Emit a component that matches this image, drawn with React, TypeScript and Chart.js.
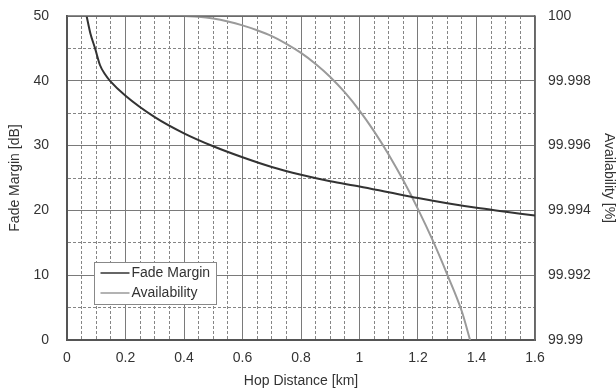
import React, { useEffect, useRef } from "react";
import { Chart, registerables } from "chart.js";

Chart.register(...registerables);

// Fade Margin curve [dB] vs hop distance [km]
const fadeDistance = [0.067, 0.08, 0.096, 0.113, 0.13, 0.147, 0.2, 0.3, 0.4, 0.5, 0.6, 0.7, 0.8, 0.9, 1.0, 1.1, 1.2, 1.3, 1.4, 1.5, 1.6];
const fadeMargin = [50, 47.3, 45, 42.4, 41, 40, 37.7, 34.4, 31.9, 29.9, 28.2, 26.7, 25.5, 24.5, 23.7, 22.8, 21.9, 21.1, 20.4, 19.8, 19.2];

// Availability curve [%] vs hop distance [km]
const availDistance = [0.4, 0.45, 0.5, 0.55, 0.6, 0.65, 0.7, 0.75, 0.8, 0.85, 0.9, 0.95, 1.0, 1.05, 1.1, 1.15, 1.2, 1.25, 1.3, 1.35, 1.378];
const availability = [100, 99.999976, 99.99992, 99.99983, 99.99971, 99.99956, 99.99938, 99.99914, 99.99886, 99.99852, 99.99812, 99.99764, 99.99708, 99.99644, 99.99572, 99.99492, 99.99404, 99.99308, 99.99202, 99.99088, 99.99];

// Axis ticks / labels
const xMajorTicks = [0, 0.2, 0.4, 0.6, 0.8, 1, 1.2, 1.4, 1.6];
const xTickLabels = ["0", "0.2", "0.4", "0.6", "0.8", "1", "1.2", "1.4", "1.6"];
const xMinorStep = 0.05;
const leftMajorTicks = [0, 10, 20, 30, 40, 50];
const leftTickLabels = ["0", "10", "20", "30", "40", "50"];
const leftMinorStep = 5;
const rightTicks = [99.99, 99.992, 99.994, 99.996, 99.998, 100];
const rightTickLabels = ["99.99", "99.992", "99.994", "99.996", "99.998", "100"];

const seriesNames = ["Fade Margin", "Availability"];
const seriesColors = ["#333333", "#9a9a9a"];

const FONT = "'Liberation Sans', Arial, sans-serif";
const TEXT = "#333333";
const MAJOR = "#7a7a7a";
const MINOR = "#858585";

function buildGrid(max: number, step: number): number[] {
  const out: number[] = [];
  const n = Math.round(max / step);
  for (let i = 0; i <= n; i++) out.push(Math.round(i * step * 1000) / 1000);
  return out;
}

function isMajor(list: number[], v: number) {
  return list.some((m) => Math.abs(m - v) < 1e-6);
}

const frameAndLegend = {
  id: "frameAndLegend",
  afterDatasetsDraw(chart: any) {
    const { ctx, chartArea } = chart;
    const { left, right, top, bottom } = chartArea;
    ctx.save();
    // top border
    ctx.strokeStyle = "#666";
    ctx.lineWidth = 1.5;
    ctx.beginPath();
    ctx.moveTo(left, top);
    ctx.lineTo(right, top);
    ctx.stroke();
    // legend
    const bx = left + 27.5;
    const by = bottom - 77.5;
    const bw = 122;
    const bh = 42;
    ctx.fillStyle = "#ffffff";
    ctx.fillRect(bx, by, bw, bh);
    ctx.strokeStyle = "#888";
    ctx.lineWidth = 1;
    ctx.strokeRect(bx, by, bw, bh);
    ctx.font = `14px ${FONT}`;
    ctx.textBaseline = "middle";
    ctx.textAlign = "left";
    seriesNames.forEach((name, i) => {
      const y = by + 10.5 + i * 20;
      ctx.strokeStyle = seriesColors[i];
      ctx.lineWidth = 1.5;
      ctx.beginPath();
      ctx.moveTo(bx + 6, y);
      ctx.lineTo(bx + 35, y);
      ctx.stroke();
      ctx.fillStyle = TEXT;
      ctx.fillText(name, bx + 37, y + 0.5);
    });
    ctx.restore();
  },
};

export default function App() {
  const ref = useRef<HTMLCanvasElement | null>(null);

  useEffect(() => {
    if (!ref.current) return;
    const xGrid = buildGrid(1.6, xMinorStep);
    const yGrid = buildGrid(50, leftMinorStep);

    const chart = new Chart(ref.current, {
      type: "line",
      data: {
        datasets: [
          {
            label: seriesNames[0],
            data: fadeDistance.map((x, i) => ({ x, y: fadeMargin[i] })),
            borderColor: seriesColors[0],
            borderWidth: 2,
            pointRadius: 0,
            cubicInterpolationMode: "monotone",
            yAxisID: "y",
          },
          {
            label: seriesNames[1],
            data: availDistance.map((x, i) => ({ x, y: availability[i] })),
            borderColor: seriesColors[1],
            borderWidth: 2,
            pointRadius: 0,
            cubicInterpolationMode: "monotone",
            yAxisID: "y1",
          },
        ],
      },
      options: {
        animation: false,
        responsive: false,
        layout: { padding: { top: 16, right: 0, bottom: 0, left: 0 } },
        plugins: {
          legend: { display: false },
          tooltip: { enabled: false },
        },
        scales: {
          x: {
            type: "linear",
            min: 0,
            max: 1.6,
            afterBuildTicks: (s: any) => {
              s.ticks = xGrid.map((v) => ({ value: v }));
            },
            afterFit: (s: any) => {
              s.height = 52;
            },
            ticks: {
              autoSkip: false,
              maxRotation: 0,
              padding: 10,
              color: TEXT,
              font: { family: FONT, size: 14 },
              callback: (v: any) => {
                const idx = xMajorTicks.findIndex((m) => Math.abs(m - v) < 1e-6);
                return idx >= 0 ? xTickLabels[idx] : "";
              },
            },
            grid: {
              drawTicks: false,
              color: (c: any) => (c.tick && isMajor(xMajorTicks, c.tick.value) ? MAJOR : MINOR),
              lineWidth: 1,
            },
            border: {
              color: "#555",
              width: 2,
              dash: (c: any) => (c.tick && !isMajor(xMajorTicks, c.tick.value) ? [3, 2] : []),
            },
            title: {
              display: true,
              text: "Hop Distance [km]",
              color: TEXT,
              font: { family: FONT, size: 14 },
              padding: { top: 0, bottom: 2 },
            },
          },
          y: {
            type: "linear",
            position: "left",
            min: 0,
            max: 50,
            afterBuildTicks: (s: any) => {
              s.ticks = yGrid.map((v) => ({ value: v }));
            },
            afterFit: (s: any) => {
              s.width = 67;
            },
            ticks: {
              autoSkip: false,
              padding: 0,
              color: TEXT,
              font: { family: FONT, size: 14 },
              callback: (v: any) => {
                const idx = leftMajorTicks.findIndex((m) => Math.abs(m - v) < 1e-6);
                return idx >= 0 ? leftTickLabels[idx] : "";
              },
            },
            grid: {
              drawTicks: true,
              tickLength: 18,
              tickColor: "rgba(0,0,0,0)",
              color: (c: any) => (c.tick && isMajor(leftMajorTicks, c.tick.value) ? MAJOR : MINOR),
              lineWidth: 1,
            },
            border: {
              color: "#555",
              width: 2,
              dash: (c: any) => (c.tick && !isMajor(leftMajorTicks, c.tick.value) ? [3, 2] : []),
            },
            title: {
              display: true,
              text: "Fade Margin [dB]",
              color: TEXT,
              font: { family: FONT, size: 14 },
              padding: { top: 7, bottom: 0 },
            },
          },
          y1: {
            type: "linear",
            position: "right",
            min: 99.99,
            max: 100,
            afterBuildTicks: (s: any) => {
              s.ticks = rightTicks.map((v) => ({ value: v }));
            },
            afterFit: (s: any) => {
              s.width = 81;
            },
            ticks: {
              autoSkip: false,
              padding: 0,
              color: TEXT,
              font: { family: FONT, size: 14 },
              callback: (_v: any, i: number) => rightTickLabels[i],
            },
            grid: { drawOnChartArea: false, drawTicks: true, tickLength: 13, tickColor: "rgba(0,0,0,0)" },
            border: { color: "#666", width: 1.5 },
            title: {
              display: true,
              text: "Availability [%]",
              color: TEXT,
              font: { family: FONT, size: 14 },
              padding: { top: -1, bottom: 0 },
            },
          },
        },
      },
      plugins: [frameAndLegend],
    } as any);

    return () => chart.destroy();
  }, []);

  return (
    <div style={{ position: "absolute", left: 0, top: 0, width: 616, height: 392, background: "#fff" }}>
      <canvas ref={ref} width={616} height={392} style={{ display: "block" }} />
    </div>
  );
}
